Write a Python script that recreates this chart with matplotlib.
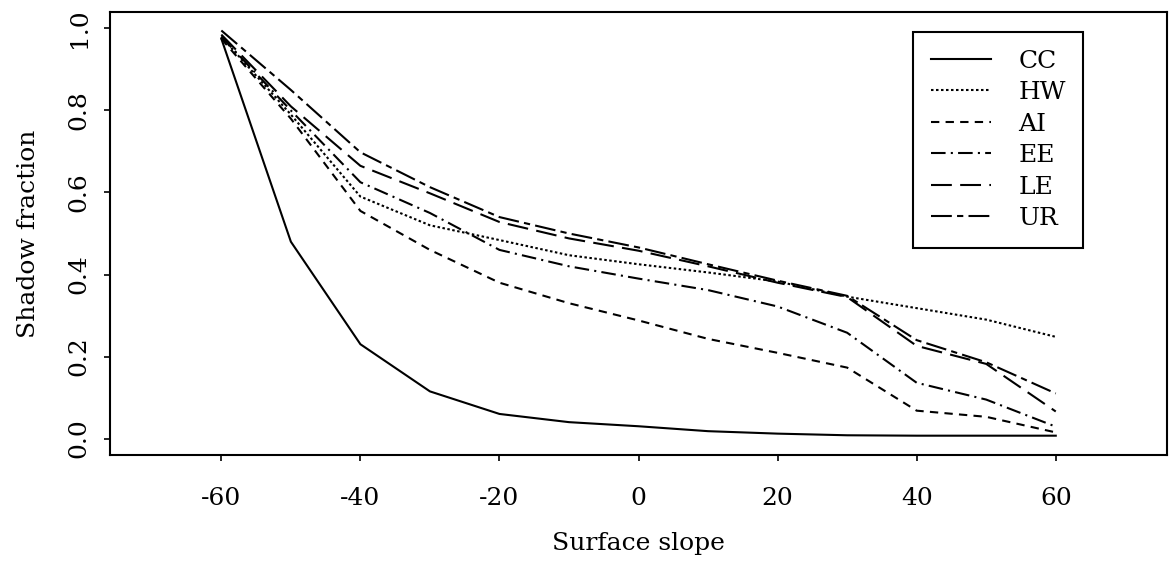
import matplotlib.pyplot as plt
import numpy as np

plt.rcParams['font.family'] = 'DejaVu Serif'
plt.rcParams['axes.unicode_minus'] = False

# surface slope (x) and shadow fraction for each model
slope = np.array([-60, -50, -40, -30, -20, -10, 0, 10, 20, 30, 40, 50, 60])
cc = [0.975, 0.48, 0.23, 0.115, 0.06, 0.04, 0.03, 0.018, 0.012, 0.008, 0.007, 0.007, 0.007]
hw = [0.98, 0.79, 0.59, 0.52, 0.484, 0.447, 0.425, 0.405, 0.383, 0.346, 0.318, 0.29, 0.248]
ai = [0.975, 0.78, 0.555, 0.46, 0.38, 0.33, 0.288, 0.243, 0.209, 0.173, 0.068, 0.053, 0.015]
ee = [0.98, 0.80, 0.625, 0.55, 0.46, 0.42, 0.39, 0.362, 0.322, 0.258, 0.136, 0.095, 0.029]
le = [0.985, 0.81, 0.665, 0.598, 0.528, 0.488, 0.458, 0.42, 0.38, 0.345, 0.226, 0.182, 0.066]
ur = [0.995, 0.85, 0.698, 0.613, 0.54, 0.50, 0.466, 0.425, 0.385, 0.348, 0.24, 0.186, 0.11]

names = ['CC', 'HW', 'AI', 'EE', 'LE', 'UR']
styles = ['-', (0, (1.2, 1.2)), (0, (4, 3)), (0, (7, 2.5, 1, 2.5)),
          (0, (10, 4)), (0, (10, 2.5, 3, 2.5))]

fig = plt.figure(figsize=(11.71, 5.73), dpi=100)
ax = fig.add_axes([0.094, 0.206, 0.9026, 0.773])

for vals, name, ls in zip([cc, hw, ai, ee, le, ur], names, styles):
    ax.plot(slope, vals, color='black', lw=1.5, linestyle=ls, label=name)

ax.set_xlim(-76, 76)
ax.set_ylim(-0.04, 1.04)
ax.set_xticks([-60, -40, -20, 0, 20, 40, 60])
ax.set_yticks([0.0, 0.2, 0.4, 0.6, 0.8, 1.0])
ax.set_yticklabels(['0.0', '0.2', '0.4', '0.6', '0.8', '1.0'], rotation=90, va='center')
ax.tick_params(direction='out', length=4, width=1.2, labelsize=18, pad=19)
ax.tick_params(axis='y', pad=10)
for s in ax.spines.values():
    s.set_linewidth(1.5)

ax.set_xlabel('Surface slope', fontsize=18, labelpad=16)
ax.set_ylabel('Shadow fraction', fontsize=18, labelpad=20)

leg = ax.legend(loc='upper left', bbox_to_anchor=(0.78, 0.944),
                bbox_transform=fig.transFigure, fontsize=18, frameon=True,
                fancybox=False, edgecolor='black', framealpha=1,
                handlelength=2.4, handletextpad=1.1, labelspacing=0.34,
                borderpad=0.7, borderaxespad=0)
leg.get_frame().set_linewidth(1.5)

fig.savefig('out.png', dpi=100)
